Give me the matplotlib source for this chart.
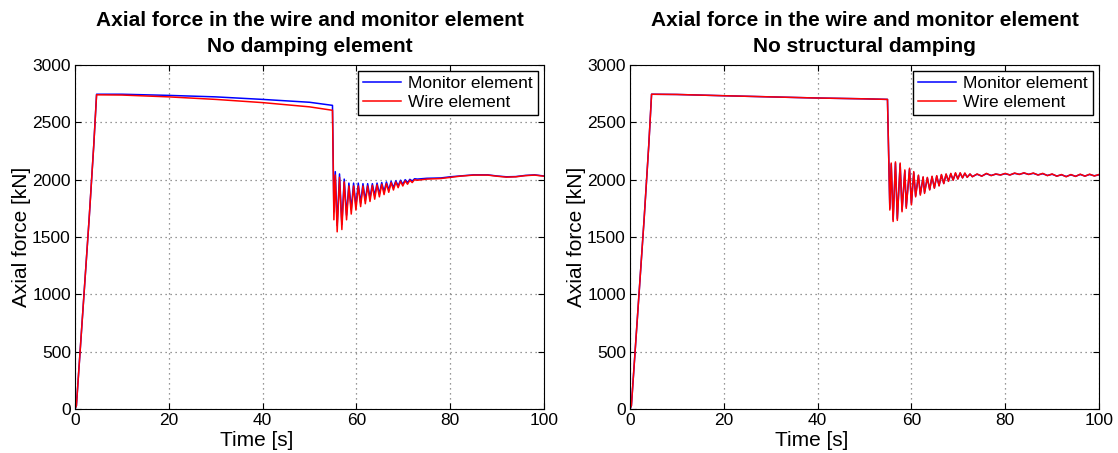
import matplotlib
matplotlib.use("Agg")
import matplotlib.pyplot as plt

plt.rcParams["font.family"] = ["Liberation Sans", "DejaVu Sans"]

# ---- left panel: no damping element ----
left_t = [0, 0.3, 1.0, 2.0, 3.0, 4.0, 4.6, 10, 20, 30, 40, 50, 54.9,
          55.2, 55.5, 55.9, 56.4, 56.9, 57.4, 57.9, 58.4, 58.9, 59.4, 59.9,
          60.4, 60.9, 61.4, 61.9, 62.4, 62.9, 63.4, 63.9, 64.4, 64.9, 65.4,
          65.9, 66.4, 66.9, 67.4, 67.9, 68.4, 68.9, 69.4, 69.9, 70.4, 70.9,
          71.4, 71.9, 72.4, 73, 75, 78, 80, 82, 85, 88, 90, 92, 94, 96, 98, 100]
left_monitor = [0, 30, 450, 1050, 1650, 2300, 2745, 2745, 2735, 2722, 2700, 2675, 2648,
                1720, 2070, 1600, 2050, 1610, 2005, 1690, 1970, 1740, 1970, 1770,
                1970, 1795, 1965, 1820, 1965, 1840, 1965, 1860, 1970, 1875, 1975,
                1895, 1980, 1910, 1985, 1930, 1990, 1945, 1995, 1960, 2000, 1975,
                2003, 1988, 2008, 2005, 2012, 2015, 2025, 2032, 2042, 2042, 2032,
                2025, 2027, 2037, 2042, 2032]
left_wire = [0, 30, 450, 1050, 1650, 2300, 2740, 2738, 2722, 2700, 2672, 2635, 2605,
             1650, 2040, 1545, 2020, 1565, 1980, 1650, 1945, 1700, 1945, 1735,
             1945, 1765, 1945, 1790, 1945, 1810, 1950, 1830, 1955, 1850, 1960,
             1870, 1965, 1890, 1975, 1910, 1980, 1930, 1985, 1945, 1990, 1960,
             1995, 1975, 2000, 1995, 2005, 2010, 2020, 2030, 2040, 2040, 2030,
             2022, 2025, 2035, 2040, 2030]

# ---- right panel: no structural damping ----
right_t = [0, 0.3, 1.0, 2.0, 3.0, 4.0, 4.6, 10, 20, 30, 40, 50, 54.9,
           55.4, 55.7, 56.1, 56.6, 57.0, 57.6, 58.0, 58.6, 58.9, 59.6, 60.0,
           60.5, 60.9, 61.5, 61.9, 62.5, 62.8, 63.4, 63.9, 64.4, 64.9, 65.4,
           65.9, 66.4, 66.9, 67.4, 67.9, 68.4, 68.9, 69.4, 69.9, 70.4, 70.9,
           71.4, 71.9, 72.5, 73, 74, 75, 76, 77, 78, 79, 80, 81, 82, 83, 84,
           85, 86, 87, 88, 89, 90, 91, 92, 93, 94, 95, 96, 97, 98, 99, 100]
right_monitor = [0, 30, 450, 1050, 1650, 2300, 2745, 2743, 2732, 2722, 2712, 2705, 2700,
                 1750, 2135, 1650, 2145, 1660, 2135, 1735, 2075, 1765, 2090, 1795,
                 2060, 1860, 2035, 1875, 2020, 1890, 2015, 1915, 2025, 1930, 2030,
                 1950, 2040, 1968, 2046, 1988, 2050, 1998, 2055, 2008, 2056, 2017,
                 2054, 2022, 2048, 2027, 2047, 2032, 2052, 2037, 2048, 2042, 2052,
                 2042, 2055, 2047, 2057, 2047, 2055, 2042, 2052, 2037, 2047, 2032,
                 2042, 2028, 2042, 2030, 2045, 2032, 2045, 2034, 2042]
right_wire = [0, 30, 450, 1050, 1650, 2300, 2745, 2743, 2732, 2722, 2712, 2705, 2700,
              1735, 2145, 1635, 2155, 1645, 2145, 1720, 2085, 1750, 2100, 1780,
              2070, 1850, 2040, 1865, 2025, 1880, 2020, 1910, 2030, 1925, 2035,
              1945, 2045, 1965, 2050, 1985, 2055, 1995, 2060, 2005, 2060, 2015,
              2058, 2020, 2050, 2025, 2050, 2030, 2055, 2035, 2050, 2040, 2055,
              2040, 2058, 2045, 2060, 2045, 2058, 2040, 2055, 2035, 2050, 2030,
              2045, 2025, 2045, 2028, 2048, 2030, 2048, 2032, 2045]

titles = ["Axial force in the wire and monitor element\nNo damping element",
          "Axial force in the wire and monitor element\nNo structural damping"]
panels = [(left_t, left_monitor, left_wire), (right_t, right_monitor, right_wire)]

fig = plt.figure(figsize=(11.18, 4.53), dpi=100)
lefts = [75 / 1118, 630 / 1118]
for left, title, (t, mon, wire) in zip(lefts, titles, panels):
    ax = fig.add_axes([left, 44 / 453, 469 / 1118, 344 / 453])
    ax.plot(t, mon, color="blue", linewidth=1.1, label="Monitor element")
    ax.plot(t, wire, color="red", linewidth=1.1, label="Wire element")
    ax.set_xlim(0, 100)
    ax.set_ylim(0, 3000)
    ax.set_xticks([0, 20, 40, 60, 80, 100])
    ax.set_yticks([0, 500, 1000, 1500, 2000, 2500, 3000])
    ax.tick_params(direction="in", top=True, right=True, labelsize=12.5, length=4, pad=3)
    ax.grid(True, linestyle=(0, (1, 3)), color="#777777", linewidth=0.9)
    ax.set_xlabel("Time [s]", fontsize=15, labelpad=-2)
    ax.xaxis.set_label_coords(0.388, -0.065)
    ax.set_ylabel("Axial force [kN]", fontsize=15)
    ax.yaxis.set_label_coords(-0.093, 0.5)
    ax.set_title(title, fontsize=15, fontweight="bold", pad=9.5, linespacing=1.45)
    leg = ax.legend(loc="upper right", fontsize=12.5, fancybox=False, framealpha=1,
                    edgecolor="black", borderaxespad=0.35, handlelength=2.2,
                    borderpad=0.3, labelspacing=0.2, handletextpad=0.4)
    leg.get_frame().set_linewidth(1.0)

fig.savefig("out.png", dpi=100)
